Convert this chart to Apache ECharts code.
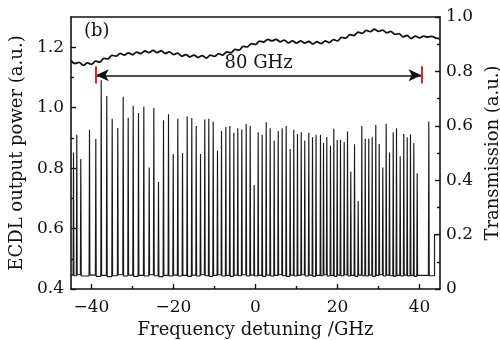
<!DOCTYPE html>
<html>
<head>
<meta charset="utf-8">
<script src="https://cdn.jsdelivr.net/npm/echarts@6/dist/echarts.min.js"></script>
<style>
  html, body { margin: 0; background: #fff; }
  #chart { width: 500px; height: 340px; }
</style>
</head>
<body>
<div id="chart"></div>
<script>
// comb lines of the ECDL spectrum (GHz, a.u.)
const spikeFreq = [
  -44.39, -43.59, -42.61, -40.49, -38.95, -37.63, -36.27, -34.95, -33.59, -32.27,
  -31.05, -29.83, -28.54, -27.24, -25.93, -24.80, -23.66, -22.44, -21.22, -20.07,
  -18.95, -17.80, -16.66, -15.54, -14.46, -13.41, -12.37, -11.39, -10.32, -9.27,
  -8.29, -7.24, -6.27, -5.29, -4.32, -3.34, -2.27, -1.29, -0.32, 0.66,
  1.63, 2.61, 3.59, 4.56, 5.54, 6.51, 7.49, 8.46, 9.34, 10.24,
  11.15, 12.02, 13.00, 13.90, 14.76, 15.85, 16.59, 17.39, 18.29, 19.10,
  19.93, 20.73, 21.63, 22.44, 23.24, 24.15, 25.05, 25.93, 26.76, 27.63,
  28.46, 29.34, 30.17, 31.05, 31.88, 32.68, 33.59, 34.39, 35.29, 36.17,
  37.00, 37.80, 38.61, 39.44, 42.27
];
const spikeTop = [
  0.852, 0.910, 0.830, 0.927, 0.896, 1.091, 1.039, 0.963, 0.933, 1.036,
  0.967, 1.006, 0.982, 1.004, 0.802, 0.999, 0.754, 0.958, 0.978, 0.847,
  0.963, 0.850, 0.971, 0.966, 0.939, 0.847, 0.961, 0.963, 0.954, 0.858,
  0.923, 0.936, 0.939, 0.917, 0.932, 0.928, 0.946, 0.939, 0.744, 0.919,
  0.910, 0.952, 0.932, 0.891, 0.923, 0.932, 0.939, 0.863, 0.927, 0.913,
  0.919, 0.891, 0.917, 0.902, 0.910, 0.910, 0.883, 0.903, 0.874, 0.930,
  0.893, 0.894, 0.886, 0.921, 0.788, 0.879, 0.691, 0.939, 0.897, 0.897,
  0.902, 0.943, 0.880, 0.802, 0.947, 0.852, 0.919, 0.932, 0.839, 0.913,
  0.902, 0.912, 0.883, 0.783, 0.954
];
// baseline level read in each gap before the spike of the same index
const gapLevel = [
  0.446, 0.444, 0.447, 0.443, 0.446, 0.442, 0.445, 0.441, 0.444, 0.447,
  0.443, 0.446, 0.442, 0.445, 0.443, 0.447, 0.444, 0.441, 0.445, 0.443,
  0.446, 0.443, 0.445, 0.442, 0.446, 0.443, 0.447, 0.444, 0.442, 0.445,
  0.447, 0.443, 0.445, 0.442, 0.446, 0.444, 0.447, 0.443, 0.446, 0.443,
  0.445, 0.442, 0.446, 0.443, 0.445, 0.447, 0.444, 0.442, 0.446, 0.443,
  0.445, 0.447, 0.443, 0.446, 0.442, 0.445, 0.444, 0.447, 0.443, 0.445,
  0.442, 0.446, 0.444, 0.447, 0.443, 0.445, 0.442, 0.446, 0.444, 0.443,
  0.446, 0.442, 0.445, 0.447, 0.443, 0.446, 0.444, 0.442, 0.445, 0.443,
  0.446, 0.443, 0.445, 0.442, 0.445
];
const tailFreq = 43.66;
const tailLevel = 0.58;
const endLevel = 0.444;

// transmission trace (right axis)
const transFreq = [
  -45, -44, -43, -42, -41, -40, -39, -38, -37, -36, -35, -34, -33, -32, -31, -30,
  -29, -28, -27, -26, -25, -24, -23, -22, -21, -20, -19, -18, -17, -16, -15, -14,
  -13, -12, -11, -10, -9, -8, -7, -6, -5, -4, -3, -2, -1, 0, 1, 2, 3, 4, 5, 6,
  7, 8, 9, 10, 11, 12, 13, 14, 15, 16, 17, 18, 19, 20, 21, 22, 23, 24, 25, 26,
  27, 28, 29, 30, 31, 32, 33, 34, 35, 36, 37, 38, 39, 40, 41, 42, 43, 44, 45
];
const transVal = [
  0.840, 0.829, 0.833, 0.822, 0.831, 0.826, 0.838, 0.834, 0.848, 0.846, 0.859, 0.856, 0.866, 0.860, 0.868, 0.861,
  0.871, 0.865, 0.875, 0.869, 0.877, 0.869, 0.876, 0.866, 0.872, 0.862, 0.867, 0.856, 0.862, 0.853, 0.860, 0.851,
  0.858, 0.849, 0.860, 0.855, 0.865, 0.860, 0.872, 0.868, 0.881, 0.878, 0.892, 0.890, 0.902, 0.899, 0.911, 0.908,
  0.918, 0.912, 0.918, 0.909, 0.915, 0.905, 0.912, 0.904, 0.912, 0.904, 0.910, 0.901, 0.909, 0.902, 0.912, 0.906,
  0.917, 0.912, 0.925, 0.922, 0.935, 0.932, 0.944, 0.940, 0.951, 0.946, 0.955, 0.947, 0.952, 0.942, 0.947, 0.936,
  0.939, 0.927, 0.932, 0.921, 0.930, 0.923, 0.930, 0.926, 0.929, 0.922, 0.920
];

const xTicks = [-40, -20, 0, 20, 40];
const xMinor = [-30, -10, 10, 30];
const yTicks = [0.4, 0.6, 0.8, 1.0, 1.2];
const yMinor = [0.5, 0.7, 0.9, 1.1];

// 80 GHz span marker
const spanStart = -38.95;
const spanEnd = 40.5;
const spanLevel = 1.107;
const spanBarLow = 1.08;
const spanBarHigh = 1.137;
const spanText = '80 GHz';

const FONT = 'DejaVu Serif';
const INK = '#111';

const spectrum = [[-45, gapLevel[0]]];
spikeFreq.forEach((f, i) => {
  spectrum.push([f - 0.1, gapLevel[i]], [f, spikeTop[i]], [f + 0.1, gapLevel[i + 1] !== undefined ? gapLevel[i + 1] : endLevel]);
});
spectrum.push([tailFreq, endLevel], [tailFreq, tailLevel], [45, tailLevel]);

const transmission = transFreq.map((f, i) => [f, transVal[i]]);

const chart = echarts.init(document.getElementById('chart'), null, { renderer: 'canvas' });
const gridBox = { left: 71, right: 60, top: 17, bottom: 51, outerBoundsMode: 'none', containLabel: false };

chart.setOption({
  animation: false,
  backgroundColor: '#fff',
  textStyle: { fontFamily: FONT, color: INK },
  grid: [
    Object.assign({}, gridBox),
    Object.assign({}, gridBox)
  ],
  graphic: [
    { type: 'text', left: 84, top: 22, style: { text: '(b)', font: '18px "DejaVu Serif"', fill: INK } }
  ],
  xAxis: [
    {
      gridIndex: 0, type: 'value', position: 'bottom', min: -45, max: 45,
      name: 'Frequency detuning /GHz', nameLocation: 'middle', nameGap: 30,
      nameTextStyle: { fontFamily: FONT, fontSize: 18, color: INK },
      axisLine: { onZero: false, lineStyle: { color: INK, width: 1.6 } },
      axisTick: { inside: true, length: 5, customValues: xTicks, lineStyle: { color: INK, width: 1.4 } },
      axisLabel: {
        customValues: xTicks, margin: 10, fontFamily: FONT, fontSize: 17, color: INK,
        formatter: v => String(v).replace('-', '\u2212')
      },
      splitLine: { show: false }
    },
    {
      gridIndex: 0, type: 'value', position: 'top', min: -45, max: 45,
      axisLine: { onZero: false, lineStyle: { color: INK, width: 1.6 } },
      axisTick: { show: false }, axisLabel: { show: false }, splitLine: { show: false }
    },
    {
      gridIndex: 1, type: 'value', position: 'bottom', min: -45, max: 45,
      axisLine: { show: false, onZero: false },
      axisTick: { inside: true, length: 3, customValues: xMinor, lineStyle: { color: INK, width: 1.4 } },
      axisLabel: { show: false }, splitLine: { show: false }
    }
  ],
  yAxis: [
    {
      gridIndex: 0, type: 'value', position: 'left', min: 0.4, max: 1.3,
      name: 'ECDL output power (a.u.)', nameLocation: 'middle', nameGap: 40,
      nameTextStyle: { fontFamily: FONT, fontSize: 18, color: INK },
      axisLine: { onZero: false, lineStyle: { color: INK, width: 1.6 } },
      axisTick: { inside: true, length: 5, customValues: yTicks, lineStyle: { color: INK, width: 1.4 } },
      axisLabel: {
        customValues: yTicks, margin: 7, fontFamily: FONT, fontSize: 17, color: INK,
        formatter: v => v.toFixed(1)
      },
      splitLine: { show: false }
    },
    {
      gridIndex: 0, type: 'value', position: 'right', min: 0, max: 1, interval: 0.2,
      name: 'Transmission (a.u.)', nameLocation: 'middle', nameGap: 42,
      nameTextStyle: { fontFamily: FONT, fontSize: 18, color: INK },
      axisLine: { onZero: false, lineStyle: { color: INK, width: 1.6 } },
      axisTick: { inside: true, length: 5, lineStyle: { color: INK, width: 1.4 } },
      minorTick: { show: true, splitNumber: 2, length: 3, lineStyle: { color: INK, width: 1.4 } },
      axisLabel: {
        margin: 6, fontFamily: FONT, fontSize: 17, color: INK,
        formatter: v => (v === 0 ? '0' : v.toFixed(1))
      },
      splitLine: { show: false }
    },
    {
      gridIndex: 1, type: 'value', position: 'left', min: 0.4, max: 1.3,
      axisLine: { show: false, onZero: false },
      axisTick: { inside: true, length: 3, customValues: yMinor, lineStyle: { color: INK, width: 1.4 } },
      axisLabel: { show: false }, splitLine: { show: false }
    }
  ],
  series: [
    {
      name: 'ECDL', type: 'line', xAxisIndex: 0, yAxisIndex: 0,
      data: spectrum, symbol: 'none',
      lineStyle: { color: '#181818', width: 1.15 }
    },
    {
      name: 'Transmission', type: 'line', xAxisIndex: 0, yAxisIndex: 1,
      data: transmission, symbol: 'none', smooth: 0.3,
      lineStyle: { color: INK, width: 1.8 }
    },
    {
      name: 'span', type: 'line', xAxisIndex: 0, yAxisIndex: 0, data: [],
      markLine: {
        silent: true, animation: false,
        symbol: ['arrow', 'arrow'], symbolSize: [9, 13],
        label: {
          show: true, position: 'middle', distance: 3, formatter: spanText,
          fontFamily: FONT, fontSize: 18, color: INK
        },
        lineStyle: { color: INK, width: 1.6, type: 'solid' },
        data: [[{ coord: [spanStart, spanLevel] }, { coord: [spanEnd, spanLevel] }]]
      }
    },
    {
      name: 'bars', type: 'line', xAxisIndex: 0, yAxisIndex: 0, data: [],
      markLine: {
        silent: true, animation: false, symbol: 'none',
        label: { show: false },
        lineStyle: { color: '#e8202a', width: 2, type: 'solid' },
        data: [
          [{ coord: [spanStart, spanBarLow] }, { coord: [spanStart, spanBarHigh] }],
          [{ coord: [spanEnd, spanBarLow] }, { coord: [spanEnd, spanBarHigh] }]
        ]
      }
    }
  ]
});
</script>
</body>
</html>
